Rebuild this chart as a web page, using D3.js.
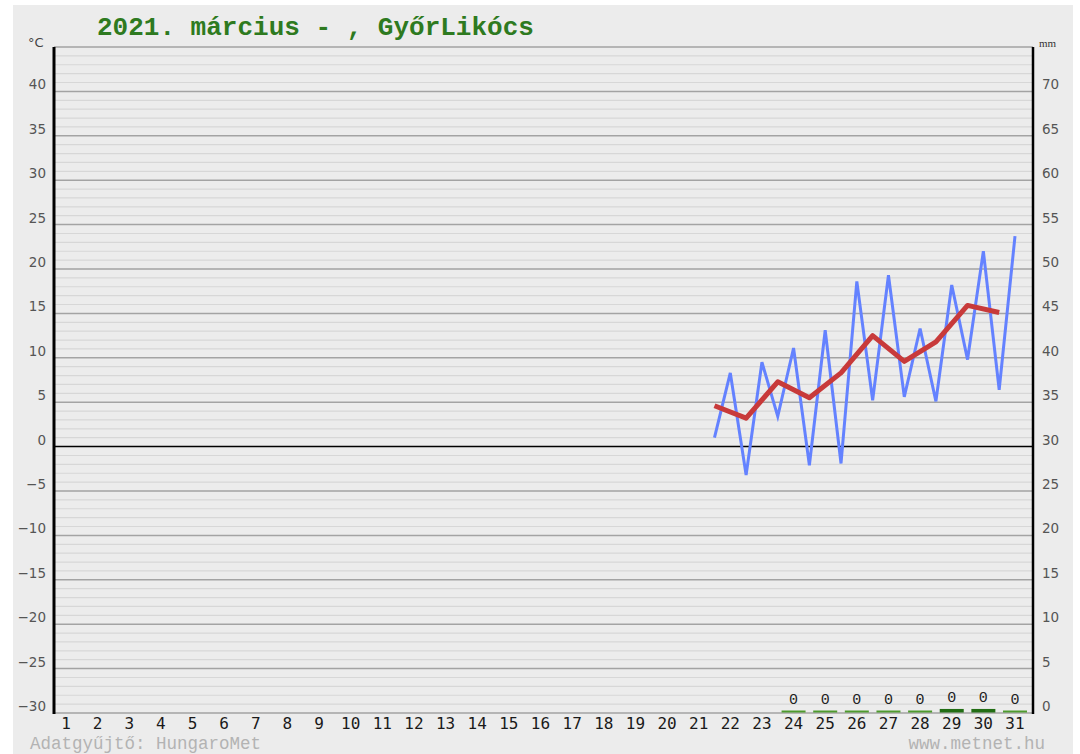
<!DOCTYPE html>
<html>
<head>
<meta charset="utf-8">
<script src="https://cdn.jsdelivr.net/npm/d3@7"></script>
<style>
  body { margin: 0; background: #fff; }
</style>
</head>
<body>
<div class="graph-goes-here"></div>
<script>
// days of the month on the axis
var days = d3.range(1, 32);

// min / max temperatures, alternating (half-day positions)
var tempTimes = [21.5, 22, 22.5, 23, 23.5, 24, 24.5, 25, 25.5, 26, 26.5, 27, 27.5, 28, 28.5, 29, 29.5, 30, 30.5, 31];
var tempValues = [1.0, 8.3, -3.2, 9.5, 3.4, 11.1, -2.1, 13.1, -1.9, 18.6, 5.2, 19.3, 5.6, 13.3, 5.1, 18.2, 9.8, 22.0, 6.4, 23.7];

// daily mean temperature
var meanTimes = [21.5, 22.5, 23.5, 24.5, 25.5, 26.5, 27.5, 28.5, 29.5, 30.5];
var meanValues = [4.6, 3.2, 7.3, 5.5, 8.3, 12.5, 9.6, 11.8, 15.9, 15.1];

// precipitation (mm)
var precipDays = [24, 25, 26, 27, 28, 29, 30, 31];
var precipValues = [0, 0, 0, 0, 0, 0.4, 0.4, 0];

var tempTicks = d3.range(-30, 41, 5);
var precipTicks = d3.range(0, 71, 5);

var W = 1080, H = 754;
var plotL = 54, plotR = 1033, plotT = 47, plotB = 713;

var svg = d3.select(".graph-goes-here")
    .append("svg")
    .attr("width", W)
    .attr("height", H);

svg.append("rect")
    .attr("x", 13).attr("y", 5)
    .attr("width", 1060).attr("height", H - 5)
    .attr("fill", "#ececec");

var x = d3.scaleLinear().domain([1, 31]).range([66, 1015]);
var yT = d3.scaleLinear().domain([-30, 45]).range([plotB, plotT]);
var yP = d3.scaleLinear().domain([0, 75]).range([plotB, plotT]);

// grid: minor every degree, major every 5
var minor = d3.range(-30, 46).filter(d => d % 5 != 0);
svg.append("g").selectAll("line")
    .data(minor)
    .join("line")
    .attr("x1", plotL).attr("x2", plotR)
    .attr("y1", d => yT(d)).attr("y2", d => yT(d))
    .attr("stroke", "#d7d7d7")
    .attr("stroke-width", 1.2);

var major = d3.range(-30, 46, 5).filter(d => d != 0);
svg.append("g").selectAll("line")
    .data(major)
    .join("line")
    .attr("x1", plotL).attr("x2", plotR)
    .attr("y1", d => yT(d)).attr("y2", d => yT(d))
    .attr("stroke", "#a3a3a3")
    .attr("stroke-width", 1.5);

svg.append("line")
    .attr("x1", plotL).attr("x2", plotR)
    .attr("y1", yT(0)).attr("y2", yT(0))
    .attr("stroke", "#000")
    .attr("stroke-width", 1.5);

// precipitation bars + labels
var bars = svg.append("g");
bars.selectAll("rect")
    .data(precipDays)
    .join("rect")
    .attr("x", d => x(d) - 12)
    .attr("width", 24)
    .attr("y", (d, i) => Math.min(yP(precipValues[i]), plotB - 2) - 0.5)
    .attr("height", (d, i) => Math.max(2, plotB - yP(precipValues[i])))
    .attr("fill", (d, i) => precipValues[i] > 0 ? "#226d14" : "#4e9a2e");

bars.selectAll("text")
    .data(precipDays)
    .join("text")
    .attr("x", d => x(d))
    .attr("y", (d, i) => Math.min(yP(precipValues[i]), plotB - 2) - 7)
    .attr("text-anchor", "middle")
    .style("font-family", "'Liberation Mono', monospace")
    .style("font-size", "15px")
    .attr("fill", "#222")
    .text((d, i) => d3.format(".0f")(precipValues[i]));

// temperature lines
svg.append("path")
    .datum(tempTimes.map((t, i) => [t, tempValues[i]]))
    .attr("fill", "none")
    .attr("stroke", "#6482ff")
    .attr("stroke-width", 3)
    .attr("d", d3.line()
        .x(d => x(d[0]))
        .y(d => yT(d[1])));

svg.append("path")
    .datum(meanTimes.map((t, i) => [t, meanValues[i]]))
    .attr("fill", "none")
    .attr("stroke", "#c83a3a")
    .attr("stroke-width", 5)
    .attr("stroke-linejoin", "round")
    .attr("d", d3.line()
        .x(d => x(d[0]))
        .y(d => yT(d[1])));

// axes lines
svg.append("line")
    .attr("x1", plotL).attr("x2", plotL)
    .attr("y1", plotT).attr("y2", plotB + 1)
    .attr("stroke", "#000").attr("stroke-width", 3);
svg.append("line")
    .attr("x1", plotR).attr("x2", plotR)
    .attr("y1", plotT).attr("y2", plotB + 1)
    .attr("stroke", "#000").attr("stroke-width", 2.5);

// tick labels
var fmt = d3.format("d");
svg.append("g").selectAll("text")
    .data(tempTicks)
    .join("text")
    .attr("x", 46)
    .attr("y", d => yT(d) - 2)
    .attr("text-anchor", "end")
    .style("font-family", "'DejaVu Sans', sans-serif")
    .style("font-size", "13.5px")
    .attr("fill", "#555")
    .text(d => fmt(d));

svg.append("g").selectAll("text")
    .data(precipTicks)
    .join("text")
    .attr("x", 1042)
    .attr("y", d => yP(d) - 2)
    .attr("text-anchor", "start")
    .style("font-family", "'DejaVu Sans', sans-serif")
    .style("font-size", "13.5px")
    .attr("fill", "#555")
    .text(d => fmt(d));

svg.append("g").selectAll("text")
    .data(days)
    .join("text")
    .attr("x", d => x(d))
    .attr("y", 729)
    .attr("text-anchor", "middle")
    .style("font-family", "'DejaVu Sans Mono', monospace")
    .style("font-size", "16px")
    .attr("fill", "#1a1a1a")
    .text(d => d);

// units
svg.append("text")
    .attr("x", 28).attr("y", 47)
    .style("font-family", "'DejaVu Sans', sans-serif")
    .style("font-size", "13px")
    .attr("fill", "#444")
    .text("°C");
svg.append("text")
    .attr("x", 1039).attr("y", 47)
    .style("font-family", "'Liberation Serif', serif")
    .style("font-size", "11px")
    .attr("fill", "#333")
    .text("mm");

// title
svg.append("text")
    .attr("x", 97).attr("y", 35)
    .style("font-family", "'Liberation Mono', monospace")
    .style("font-weight", "bold")
    .style("font-size", "26px")
    .attr("fill", "#2e7a20")
    .text("2021. március - , GyőrLikócs");

// footer
svg.append("text")
    .attr("x", 30).attr("y", 749)
    .style("font-family", "'Liberation Mono', monospace")
    .style("font-size", "17.5px")
    .attr("fill", "#b3b3b3")
    .text("Adatgyűjtő: HungaroMet");
svg.append("text")
    .attr("x", 1045).attr("y", 749)
    .attr("text-anchor", "end")
    .style("font-family", "'Liberation Mono', monospace")
    .style("font-size", "17.5px")
    .attr("fill", "#b3b3b3")
    .text("www.metnet.hu");
</script>
</body>
</html>
